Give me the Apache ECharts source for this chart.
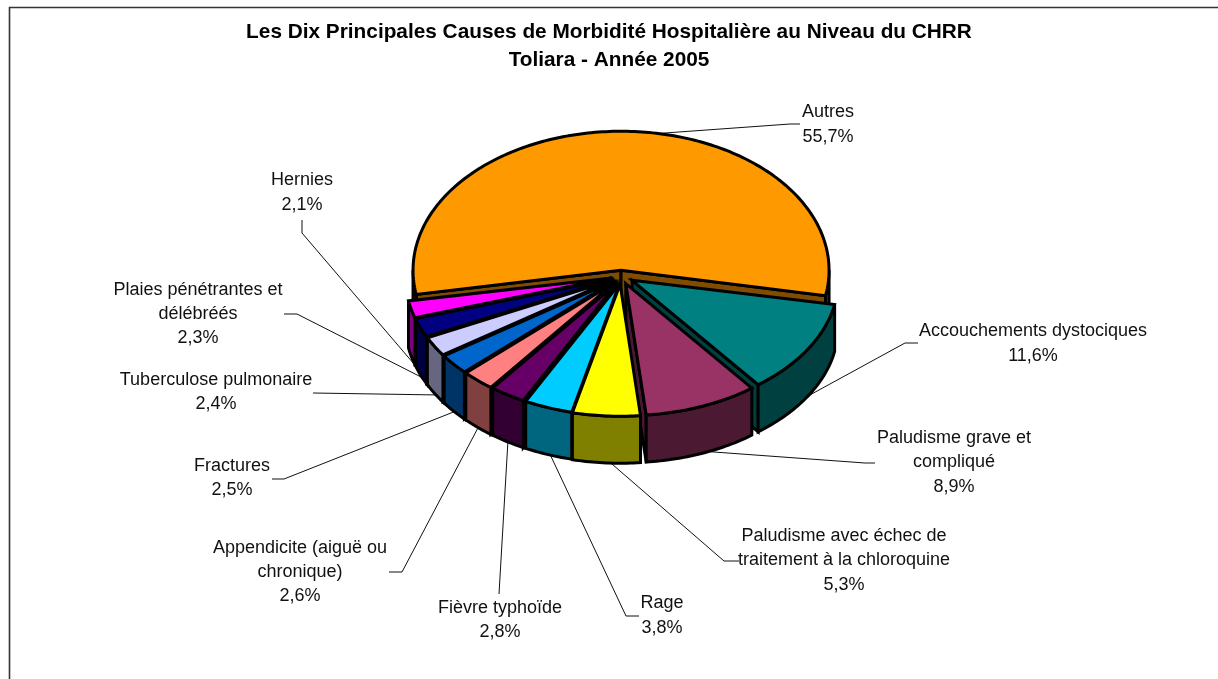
<!DOCTYPE html>
<html>
<head>
<meta charset="utf-8">
<style>html,body{margin:0;padding:0;background:#fff}#c{width:1218px;height:679px}</style>
<script src="https://cdn.jsdelivr.net/npm/echarts@6/dist/echarts.min.js"></script>
</head>
<body>
<div id="c"></div>
<script>
// ---- data ----
const categories = ["Autres","Accouchements dystociques","Paludisme grave et\ncompliqué","Paludisme avec échec de\ntraitement à la chloroquine","Rage","Fièvre typhoïde","Appendicite (aiguë ou\nchronique)","Fractures","Tuberculose pulmonaire","Plaies pénétrantes et\ndélébréés","Hernies"];
const values = [55.7,11.6,8.9,5.3,3.8,2.8,2.6,2.5,2.4,2.3,2.1];
const topColors = ["#FF9900","#008080","#993366","#FFFF00","#00CCFF","#660066","#FF8080","#0066CC","#CCCCFF","#000080","#FF00FF"];
const sideColors = ["#804C00","#004040","#4C1933","#808000","#006680","#330033","#804040","#003366","#666680","#000040","#800080"];
const titleLines = ["Les Dix Principales Causes de Morbidité Hospitalière au Niveau du CHRR","Toliara - Année 2005"];

// ---- layout (label centres and leader lines, not data) ----
const labelAt = [[828,124.5],[1033,343.5],[954,462.5],[844,560.5],[662,615.5],[500,620],[300,572],[232,478],[216,392],[198,314],[302,192.5]];
const leaders = [
 [[800,124],[790,124],[637,135]],
 [[918,343],[905,343],[808,396]],
 [[875,463],[865,463],[700,451]],
 [[739,561],[724,561],[605,458]],
 [[639,616],[626,616],[548,450]],
 [[499,594],[508,440]],
 [[389,572],[402,572],[480,424]],
 [[272,479],[284,479],[456,411]],
 [[313,393],[440,395]],
 [[284,314],[297,314],[425,379]],
 [[302,220],[302,233],[420,371]]
];
const startAngle = 170, depth = 47, cx = 621, cy = 276, rx = 207, ryFront = 132, ryBack = 139, explodeFront = 13, explodeBack = 9;

const total = values.reduce((a,b)=>a+b,0);
const spans = [];
{ let a = startAngle; values.forEach(v=>{ const s=v/total*360; spans.push([a,a+s]); a+=s; }); }
const rad = d => d*Math.PI/180;
const depthRank = spans.map((s,i)=>[Math.sin(rad((s[0]+s[1])/2)),i]).sort((p,q)=>p[0]-q[0]).map(p=>p[1]);

function renderItem(params){
  const i = params.dataIndex, a0 = spans[i][0], a1 = spans[i][1], mid=(a0+a1)/2, midN = mid%360;
  const back = Math.sin(rad(mid))<0;
  const ry = back?ryBack:ryFront, e = back?explodeBack:explodeFront, asp = ryFront/rx;
  const ox = cx+e*Math.cos(rad(mid))+(!back&&midN>100?3:0), oy = cy+e*Math.sin(rad(mid))*asp;
  const P = (a,z)=>[ox+(back?rx+1:rx-1)*Math.cos(rad(a)), oy+ry*Math.sin(rad(a))+z];
  const arc = (f,t,z)=>{const n=Math.max(2,Math.ceil(Math.abs(t-f))),r=[];for(let k=0;k<=n;k++)r.push(P(f+(t-f)*k/n,z));return r;};
  const base = 100+depthRank.indexOf(i)*10;
  const st = (fill)=>({fill,stroke:'#000',lineWidth:3,lineJoin:'miter',miterLimit:4});
  const ch = [];
  const poly = (pts,fill,z2)=>ch.push({type:'polygon',shape:{points:pts},style:st(fill),z2});
  // cut faces
  if(Math.cos(rad(a0))<0) poly([[ox,oy],P(a0,0),P(a0,depth),[ox,oy+depth]],sideColors[i],base);
  if(Math.cos(rad(a1))>0) poly([[ox,oy],P(a1,0),P(a1,depth),[ox,oy+depth]],sideColors[i],base+1);
  // outer wall: visible where sin(angle)>=0
  [[0,180],[360,540]].forEach(r=>{
    const f=Math.max(a0,r[0]),t=Math.min(a1,r[1]);
    if(t>f) poly(arc(f,t,0).concat(arc(t,f,depth)),sideColors[i],base+2);
  });
  // top
  poly([[ox,oy]].concat(arc(a0,a1,0)),topColors[i],base+3);
  // leader
  ch.push({type:'polyline',shape:{points:leaders[i]},style:{fill:null,stroke:'#111',lineWidth:1},z2:1});
  // label
  const pct = values[i].toFixed(1).replace('.',',')+'%';
  ch.push({type:'text',x:labelAt[i][0],y:labelAt[i][1],z2:300,style:{
    text:categories[i]+'\n'+pct,align:'center',verticalAlign:'middle',textAlign:'center',textVerticalAlign:'middle',
    fontFamily:'"Liberation Sans",Arial,sans-serif',fontSize:18,lineHeight:24.4,fill:'#111'}});
  return {type:'group',children:ch};
}

const chart = echarts.init(document.getElementById('c'),null,{renderer:'canvas'});
chart.setOption({
  animation:false,
  backgroundColor:'#fff',
  title:{text:titleLines.join('\n'),left:604,top:13,textAlign:'center',
    textStyle:{fontFamily:'"Liberation Sans",Arial,sans-serif',fontWeight:'bold',fontSize:20.8,lineHeight:28,color:'#000'}},
  graphic:[{type:'polyline',shape:{points:[[9.5,679],[9.5,7.5],[1218,7.5]]},style:{fill:null,stroke:'#333',lineWidth:1.6},z:0}],
  series:[{type:'custom',coordinateSystem:'none',renderItem,data:values.map((v,i)=>({name:categories[i],value:v})),silent:true,clip:false}]
});
</script>
</body>
</html>
